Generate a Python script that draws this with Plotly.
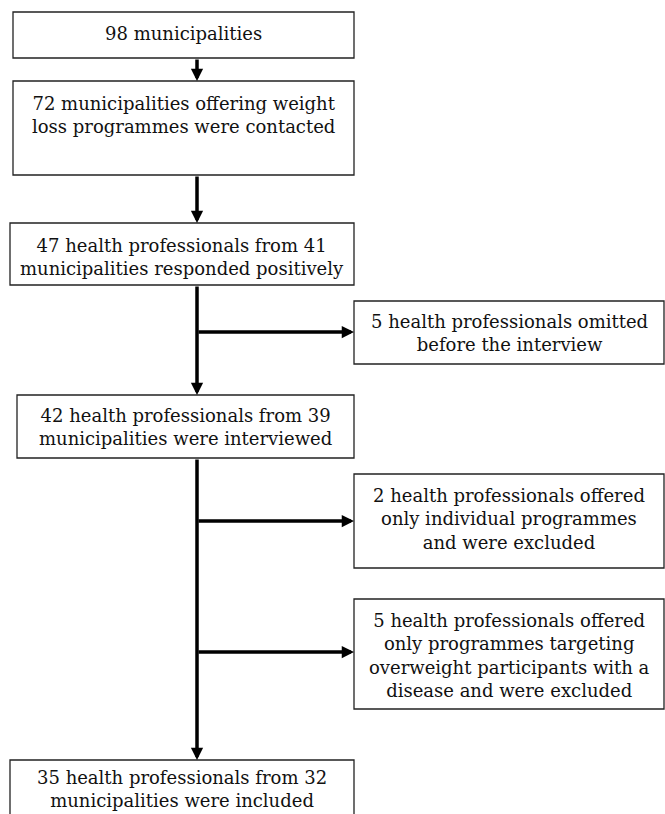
import plotly.graph_objects as go

# Flow chart content (text of each box)
main_labels = [
    "98 municipalities",
    "72 municipalities offering weight<br>loss programmes were contacted",
    "47 health professionals from 41<br>municipalities responded positively",
    "42 health professionals from 39<br>municipalities were interviewed",
    "35 health professionals from 32<br>municipalities were included",
]
side_labels = [
    "5 health professionals omitted<br>before the interview",
    "2 health professionals offered<br>only individual programmes<br>and were excluded",
    "5 health professionals offered<br>only programmes targeting<br>overweight participants with a<br>disease and were excluded",
]

# Geometry (pixels, y downwards)
main_boxes = [(13, 354, 12, 58), (13, 354, 81, 175), (10, 354, 223, 285),
              (17, 354, 395, 458), (10, 354, 760, 830)]
main_text_y = [33, 115, 257, 427, 789]
side_boxes = [(354, 664, 301, 364), (354, 664, 474, 568), (354, 664, 599, 709)]
side_text_y = [333, 519, 655]
spine_x = 197
branch_y = [332, 521, 652]

W, H = 665, 814
FONT = "DejaVu Serif"
fs = 18

fig = go.Figure()
fig.add_trace(go.Scatter(x=[0, W], y=[0, H], mode="markers",
                         marker=dict(opacity=0), hoverinfo="skip", showlegend=False))

shapes = []
annotations = []
for (x0, x1, y0, y1) in main_boxes + side_boxes:
    shapes.append(dict(type="rect", x0=x0, x1=x1, y0=y0, y1=y1, xref="x", yref="y",
                       line=dict(color="#222222", width=1.3), fillcolor="white"))

for (x0, x1, y0, y1), ty, lab in zip(main_boxes, main_text_y, main_labels):
    annotations.append(dict(x=(x0 + x1) / 2, y=ty, text=lab, showarrow=False,
                            xref="x", yref="y", font=dict(family=FONT, size=fs, color="#111111")))
for (x0, x1, y0, y1), ty, lab in zip(side_boxes, side_text_y, side_labels):
    annotations.append(dict(x=(x0 + x1) / 2, y=ty, text=lab, showarrow=False,
                            xref="x", yref="y", font=dict(family=FONT, size=fs, color="#111111")))

def arrow(x0, y0, x1, y1):
    annotations.append(dict(x=x1, y=y1, ax=x0, ay=y0, xref="x", yref="y",
                            axref="x", ayref="y", text="", showarrow=True,
                            arrowhead=2, arrowsize=0.7, arrowwidth=3.5,
                            arrowcolor="black", standoff=0))

# vertical connectors
for i in range(len(main_boxes) - 1):
    arrow(spine_x, main_boxes[i][3], spine_x, main_boxes[i + 1][2])
# branch connectors
for by, sb in zip(branch_y, side_boxes):
    arrow(spine_x, by, sb[0], by)

fig.update_layout(
    width=W, height=H, margin=dict(l=0, r=0, t=0, b=0),
    paper_bgcolor="white", plot_bgcolor="white",
    xaxis=dict(range=[0, W], visible=False, fixedrange=True),
    yaxis=dict(range=[H, 0], visible=False, fixedrange=True),
    shapes=shapes, annotations=annotations, showlegend=False,
)
fig.write_html("out.html", config={"displayModeBar": False},
               post_script="document.body.style.margin='0px';document.body.style.overflow='hidden';")
